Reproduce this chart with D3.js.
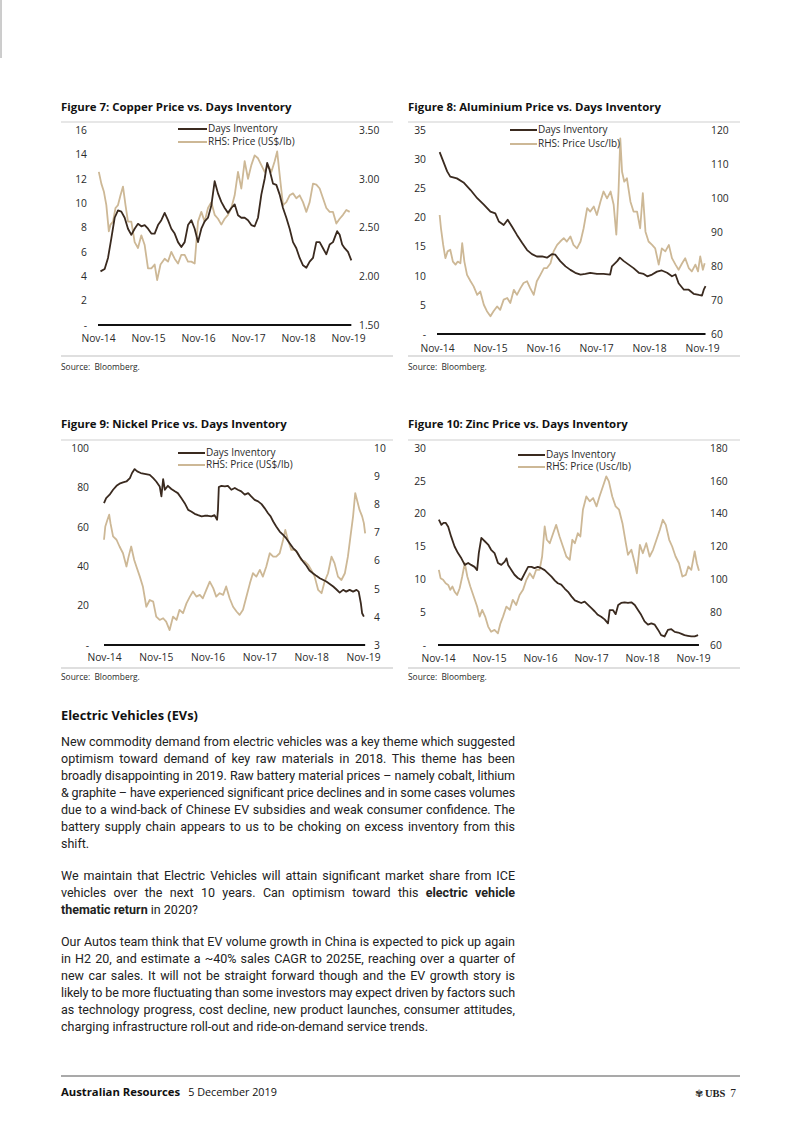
<!DOCTYPE html>
<html><head><meta charset="utf-8">
<script src="https://cdn.jsdelivr.net/npm/d3@7"></script>
<style>
body{margin:0;background:#fff;width:802px;height:1133px;overflow:hidden;position:relative;}
svg{position:absolute;left:0;top:0;}
.tl{position:absolute;left:61px;width:454px;height:17px;line-height:17px;white-space:nowrap;text-align:left;font-family:Roboto,"Open Sans",sans-serif;font-size:12.5px;color:#222;}
.tl.just{text-align:justify;text-align-last:justify;}
.hd{position:absolute;left:61px;font-family:"Open Sans",sans-serif;font-weight:700;font-size:12.8px;color:#111;line-height:17px;}
</style></head><body>
<svg id="page" width="802" height="1133"></svg>
<div id="txt"></div>
<script>
// ---------- DATA ----------
const tickMonths = [0, 12, 24, 36, 48, 60];              // months since Nov-14
const tickLabels = ["Nov-14", "Nov-15", "Nov-16", "Nov-17", "Nov-18", "Nov-19"];

const titles = [
  "Figure 7: Copper Price vs. Days Inventory",
  "Figure 8: Aluminium Price vs. Days Inventory",
  "Figure 9: Nickel Price vs. Days Inventory",
  "Figure 10: Zinc Price vs. Days Inventory"
];
const seriesNames = ["Days Inventory"];
const priceNames = ["RHS: Price (US$/lb)", "RHS: Price Usc/lb)", "RHS: Price (US$/lb)", "RHS: Price (Usc/lb)"];

// Copper: days inventory (LHS) and price US$/lb (RHS), [months since Nov-14, value]
const copperDays = [[0.6,4.4],[1.6,4.6],[2.4,5.5],[3.2,7.1],[4.0,8.8],[4.8,9.4],[5.6,9.3],[6.4,8.8],[7.2,7.9],[8.0,7.4],[8.8,7.9],[9.6,8.3],[10.4,8.1],[11.2,8.2],[12.0,7.9],[12.8,7.5],[13.6,7.5],[14.4,8.2],[15.2,8.6],[16.0,9.2],[16.8,8.6],[17.6,7.9],[18.4,7.5],[19.2,6.8],[20.0,6.4],[20.8,6.8],[21.6,8.2],[22.4,8.6],[23.2,7.9],[24.0,6.8],[24.8,7.9],[25.6,8.5],[26.4,8.8],[27.2,9.8],[28.0,11.8],[28.8,10.8],[29.6,10.1],[30.4,9.6],[31.2,9.2],[32.0,9.6],[32.8,9.9],[33.6,9.0],[34.4,8.8],[35.2,8.8],[36.0,8.6],[36.8,8.2],[37.6,8.1],[38.4,8.8],[39.2,10.7],[40.0,12.0],[40.6,13.3],[41.2,12.7],[42.0,11.6],[42.8,11.5],[43.6,10.7],[44.4,9.6],[45.2,8.8],[46.0,7.9],[46.8,6.8],[47.6,6.3],[48.4,5.5],[49.2,4.9],[50.0,4.7],[50.8,5.2],[51.6,5.5],[52.4,6.8],[53.2,6.8],[54.0,6.3],[54.8,5.8],[55.6,6.6],[56.4,6.8],[57.4,7.7],[58.0,7.4],[58.6,6.6],[59.2,6.3],[60.0,6.0],[60.8,5.3]];
const copperPrice = [[0.2,3.07],[0.8,2.95],[1.4,2.87],[2.0,2.73],[2.6,2.46],[3.0,2.53],[3.6,2.56],[4.2,2.70],[4.8,2.73],[5.4,2.83],[6.0,2.92],[6.6,2.73],[7.2,2.56],[8.0,2.56],[8.8,2.35],[9.6,2.29],[10.4,2.42],[11.2,2.32],[12.0,2.08],[12.8,2.08],[13.6,2.12],[14.2,1.96],[15.0,2.12],[16.0,2.18],[16.8,2.15],[17.6,2.25],[18.4,2.18],[19.2,2.13],[20.0,2.22],[20.8,2.22],[21.6,2.15],[22.4,2.15],[23.2,2.13],[24.0,2.56],[24.8,2.66],[25.6,2.56],[26.4,2.70],[27.2,2.76],[28.0,2.63],[28.8,2.59],[29.6,2.53],[30.4,2.59],[31.2,2.63],[32.0,2.70],[32.8,2.83],[33.6,3.07],[34.4,2.90],[35.2,3.18],[36.0,3.00],[36.8,3.14],[37.6,3.24],[38.4,3.21],[39.2,3.14],[40.0,3.07],[40.8,3.14],[41.6,3.07],[42.4,3.18],[43.0,3.28],[43.6,3.04],[44.4,2.73],[45.2,2.76],[46.0,2.83],[46.8,2.85],[47.6,2.80],[48.4,2.83],[49.2,2.76],[50.0,2.66],[50.8,2.76],[51.6,2.95],[52.4,2.94],[53.2,2.90],[54.0,2.80],[54.8,2.70],[55.6,2.66],[56.4,2.66],[57.2,2.54],[58.0,2.59],[58.8,2.63],[59.6,2.68],[60.4,2.66]];
const copperLeftTicks = [0, 2, 4, 6, 8, 10, 12, 14, 16];
const copperRightTicks = [1.5, 2.0, 2.5, 3.0, 3.5];

// Aluminium: days inventory and price Usc/lb
const aluDays = [[0.6,31.2],[2.3,27.9],[3.0,27.0],[4.5,26.7],[6.0,26.0],[7.6,24.7],[9.1,23.3],[10.6,22.2],[12.1,21.0],[13.2,20.7],[14.0,19.3],[15.1,18.7],[16.0,19.6],[17.0,18.4],[18.1,17.0],[19.3,15.6],[20.4,14.4],[21.5,13.7],[22.6,13.3],[23.8,13.3],[24.9,13.1],[26.0,13.7],[26.8,13.6],[27.9,12.5],[29.1,11.6],[30.2,11.0],[31.3,10.5],[32.5,10.2],[33.6,10.3],[34.7,10.5],[36.2,10.3],[37.7,10.3],[39.2,10.2],[39.6,11.6],[40.8,12.5],[41.4,13.1],[42.3,12.5],[43.4,11.9],[44.5,11.3],[45.7,10.5],[46.8,10.3],[47.6,9.9],[48.7,10.2],[49.8,10.7],[50.9,10.9],[52.1,10.5],[53.2,9.9],[54.0,10.2],[54.7,8.7],[55.9,7.6],[57.0,7.6],[58.1,6.9],[59.3,6.7],[60.0,6.6],[60.4,7.6],[60.8,8.2]];
const aluPrice = [[0.6,95.0],[0.9,91.1],[1.4,86.2],[1.9,82.3],[2.4,84.3],[3.0,84.8],[3.6,81.3],[4.2,80.4],[4.7,81.3],[5.3,80.8],[5.7,86.7],[6.2,81.3],[6.8,77.4],[7.6,75.5],[8.3,74.0],[9.1,71.5],[9.8,72.5],[10.6,68.6],[11.3,66.7],[12.1,65.2],[12.8,66.7],[13.6,68.1],[14.3,67.1],[15.1,70.1],[15.9,70.6],[16.6,69.1],[17.4,73.0],[18.1,71.5],[18.9,73.5],[19.6,75.0],[20.4,75.5],[21.1,73.5],[21.9,71.5],[22.6,75.5],[23.4,77.4],[24.2,79.4],[24.9,79.4],[25.7,80.8],[26.4,84.3],[27.2,86.2],[27.9,87.2],[28.7,88.2],[29.4,87.2],[30.2,88.7],[30.9,86.2],[31.7,85.2],[32.5,87.2],[33.2,91.1],[34.0,97.0],[34.7,96.0],[35.5,97.5],[36.2,95.0],[37.0,98.9],[37.7,101.9],[38.5,99.9],[39.3,101.9],[40.0,98.0],[40.6,89.2],[41.1,101.9],[41.5,117.5],[41.9,107.7],[42.4,104.8],[43.0,105.8],[43.8,98.9],[44.5,96.0],[45.3,96.0],[46.0,91.1],[46.6,101.4],[47.2,90.1],[47.9,87.2],[48.7,86.2],[49.4,85.2],[50.2,80.4],[50.9,85.2],[51.7,84.3],[52.5,86.2],[53.2,82.3],[54.0,80.4],[54.7,78.9],[55.5,80.8],[56.2,82.3],[57.0,79.4],[57.7,78.4],[58.5,80.4],[59.1,78.4],[59.6,82.8],[60.2,78.9],[60.6,80.8]];
const aluLeftTicks = [0, 5, 10, 15, 20, 25, 30, 35];
const aluRightTicks = [60, 70, 80, 90, 100, 110, 120];

// Nickel: days inventory and price US$/lb
const nickelDays = [[0.0,72],[0.5,74.6],[1.3,76.3],[2.1,78.8],[2.9,80.8],[3.6,81.9],[4.4,82.5],[5.2,83],[6.0,84.7],[6.5,87.3],[7.1,89.3],[7.7,88.1],[8.5,87.3],[9.4,86.9],[10.6,86.4],[11.4,84.7],[12.1,83],[12.9,80.5],[13.3,75.4],[13.7,84.2],[14.1,78.8],[14.8,80.8],[15.6,79.2],[16.4,78],[17.1,77.1],[17.9,74.6],[18.7,72],[19.5,68.6],[20.2,67.8],[21.0,66.6],[21.8,65.9],[22.6,65.3],[23.3,65.6],[24.1,65.6],[24.9,65.3],[25.6,65.9],[26.2,63.6],[26.4,68.6],[26.6,80.2],[27.2,80.8],[28.0,80.5],[28.7,80.8],[29.5,78.8],[30.3,79.7],[31.0,78.8],[31.8,78],[32.6,76.3],[33.4,77.1],[34.1,75.4],[34.9,73.7],[35.7,72.9],[36.5,71.5],[37.2,69.5],[38.0,66.9],[38.6,65.3],[39.2,62.7],[39.9,60.2],[40.7,57.6],[41.5,55.9],[42.2,54.2],[43.0,51.7],[43.8,49.2],[44.6,47.5],[45.3,44.9],[46.1,42.4],[46.9,40.2],[47.6,37.8],[48.4,36.4],[49.2,35.1],[50.0,33.9],[50.7,33.1],[51.5,32.2],[52.3,31],[53.1,29.7],[53.8,28.3],[54.6,26.6],[55.4,28],[56.1,27.1],[56.9,28],[57.7,27.1],[58.5,28],[59.0,27.1],[59.5,21.2],[59.8,16.1],[60.2,14.4]];
const nickelPrice = [[0.0,6.74],[0.3,7.21],[0.8,7.45],[1.2,7.63],[1.5,7.33],[2.1,6.86],[2.9,6.74],[3.6,6.50],[4.4,6.26],[5.2,5.79],[5.7,6.14],[6.3,6.50],[7.0,6.02],[7.5,5.79],[8.3,5.43],[9.0,5.08],[9.8,4.36],[10.6,4.60],[11.4,4.54],[12.1,4.01],[12.9,3.89],[13.7,3.95],[14.4,3.83],[15.2,3.53],[16.0,4.01],[16.8,3.89],[17.5,4.25],[18.3,4.13],[19.1,4.48],[19.9,4.72],[20.6,4.90],[21.4,4.72],[22.2,4.78],[22.9,4.66],[23.7,4.96],[24.5,5.25],[25.3,5.02],[26.0,4.72],[26.8,4.84],[27.6,4.78],[28.3,5.08],[29.1,4.66],[29.9,4.36],[30.7,4.19],[31.4,4.07],[32.2,4.25],[33.0,4.72],[33.8,5.19],[34.5,5.55],[35.3,5.43],[36.1,5.67],[36.8,5.43],[37.6,5.79],[38.4,6.26],[39.2,6.14],[39.9,6.14],[40.7,6.26],[41.5,6.74],[42.0,7.09],[42.6,6.74],[43.4,6.38],[44.2,6.38],[44.9,6.26],[45.7,6.02],[46.5,5.97],[47.3,5.85],[48.0,5.67],[48.8,5.43],[49.6,4.96],[50.4,4.84],[51.1,5.25],[51.9,5.55],[52.7,6.14],[53.4,5.91],[54.2,5.43],[55.0,5.31],[55.8,5.55],[56.5,6.14],[57.1,6.86],[57.7,7.57],[58.2,8.40],[58.7,8.10],[59.2,7.80],[59.8,7.57],[60.2,7.33],[60.5,6.97]];
const nickelLeftTicks = [0, 20, 40, 60, 80, 100];
const nickelRightTicks = [3, 4, 5, 6, 7, 8, 9, 10];

// Zinc: days inventory and price Usc/lb
const zincDays = [[0.2,19.1],[0.8,18.3],[1.3,18.6],[1.8,18.6],[2.4,18.0],[3.1,16.5],[3.9,15.0],[4.7,14.0],[5.5,13.2],[6.3,12.2],[7.1,12.5],[7.8,12.2],[8.6,11.9],[9.2,11.4],[9.6,14.0],[10.2,16.3],[11.0,15.8],[11.8,15.3],[12.5,14.5],[13.3,14.0],[14.1,12.5],[14.9,12.2],[15.7,12.7],[16.1,13.2],[16.5,12.2],[17.3,11.4],[18.0,10.7],[18.8,10.2],[19.6,9.9],[20.4,10.9],[21.2,11.9],[22.0,11.9],[22.7,11.7],[23.5,11.9],[24.3,11.7],[25.1,11.4],[25.9,10.9],[26.7,10.4],[27.5,9.8],[28.2,9.4],[29.0,9.2],[29.8,8.6],[30.6,8.1],[31.4,7.4],[32.2,6.8],[32.9,6.6],[33.7,6.4],[34.5,6.6],[35.3,6.1],[36.1,5.6],[36.9,5.1],[37.6,4.6],[38.4,4.3],[39.2,3.9],[40.0,3.3],[40.4,5.3],[41.2,5.3],[41.8,4.7],[42.4,6.1],[43.1,6.4],[43.9,6.5],[44.7,6.4],[45.5,6.5],[46.3,6.1],[47.1,5.3],[47.8,4.6],[48.6,3.6],[49.4,3.1],[50.2,3.3],[51.0,3.1],[51.8,2.3],[52.5,1.5],[53.3,1.3],[54.1,2.3],[54.9,2.4],[55.7,2.0],[56.5,1.9],[57.3,1.7],[58.0,1.5],[58.8,1.4],[59.6,1.3],[60.4,1.3],[61.2,1.5]];
const zincPrice = [[0.2,105.8],[0.6,100.7],[1.2,99.7],[1.8,97.6],[2.4,96.6],[2.9,93.6],[3.4,95.6],[3.9,92.5],[4.5,90.5],[5.1,94.6],[5.7,101.7],[6.3,109.8],[6.9,101.7],[7.6,95.6],[8.4,89.5],[9.2,83.4],[9.8,77.3],[10.4,81.4],[11.1,77.3],[11.8,71.2],[12.5,68.1],[13.3,69.2],[14.1,67.1],[14.7,73.2],[15.3,77.3],[16.1,83.4],[16.9,81.4],[17.6,87.5],[18.4,84.4],[19.2,90.5],[20.0,93.6],[20.8,99.7],[21.6,103.7],[22.4,100.7],[23.1,105.8],[23.9,105.8],[24.5,113.9],[25.1,132.2],[25.6,124.1],[26.3,122.0],[27.1,128.1],[27.8,133.2],[28.6,126.1],[29.4,120.0],[30.2,113.9],[31.0,111.9],[31.6,124.1],[32.2,122.0],[32.9,128.1],[33.5,126.1],[34.1,142.4],[34.9,150.5],[35.7,147.5],[36.5,149.5],[37.3,144.4],[38.0,150.5],[38.8,156.6],[39.6,162.7],[40.2,159.7],[41.0,150.5],[41.8,144.4],[42.6,142.4],[43.4,134.2],[44.2,122.0],[44.7,114.9],[45.5,118.0],[46.3,109.8],[46.8,103.7],[47.5,121.0],[48.2,115.9],[49.0,122.0],[49.8,113.9],[50.6,118.0],[51.4,124.1],[52.2,130.2],[52.9,136.3],[53.6,133.2],[54.4,124.1],[55.1,120.0],[55.9,113.9],[56.7,109.8],[57.5,101.7],[58.3,102.7],[58.9,107.8],[59.6,105.8],[60.4,117.0],[60.9,109.8],[61.4,105.3]];
const zincLeftTicks = [0, 5, 10, 15, 20, 25, 30];
const zincRightTicks = [60, 80, 100, 120, 140, 160, 180];

const sourceText = "Source:  Bloomberg.";

// ---------- LAYOUT ----------
const DARK = "#3a2a1f", TAN = "#cdb896", TXT = "#2a2a2a";
const charts = [
  {title: titles[0], days: copperDays, price: copperPrice, lt: copperLeftTicks, rt: copperRightTicks, rfmt: d3.format(".2f"), pname: priceNames[0],
   panel:[61,393], titleY:107, ruleY:122, px:[98,348], py:[325,130], leftX:87, rightX:359, xLabY:338, leg:[178,207,129,142], srcRuleY:356, srcY:367},
  {title: titles[1], days: aluDays, price: aluPrice, lt: aluLeftTicks, rt: aluRightTicks, rfmt: d3.format("d"), pname: priceNames[1],
   panel:[408,740], titleY:107, ruleY:122, px:[437,702], py:[334,130], leftX:426, rightX:711, xLabY:348, leg:[510,537,130,144], srcRuleY:356, srcY:367},
  {title: titles[2], days: nickelDays, price: nickelPrice, lt: nickelLeftTicks, rt: nickelRightTicks, rfmt: d3.format("d"), pname: priceNames[2],
   panel:[61,393], titleY:424, ruleY:440, px:[104,363], py:[645,448], leftX:89, rightX:374, xLabY:657, leg:[178,205,453,465], srcRuleY:668, srcY:677},
  {title: titles[3], days: zincDays, price: zincPrice, lt: zincLeftTicks, rt: zincRightTicks, rfmt: d3.format("d"), pname: priceNames[3],
   panel:[408,740], titleY:424, ruleY:440, px:[438,693], py:[645,448], leftX:426, rightX:710, xLabY:658, leg:[518,545,455,467], srcRuleY:668, srcY:677}
];

const svg = d3.select("#page");
const FONT = "'Open Sans', sans-serif";

// page decoration
svg.append("line").attr("x1",1).attr("x2",1).attr("y1",0).attr("y2",58).attr("stroke","#9a9a9a").attr("stroke-width",1);

charts.forEach(c => {
  const g = svg.append("g");
  g.append("text").attr("x", c.panel[0]).attr("y", c.titleY).attr("dy","0.35em")
    .attr("font-family", FONT).attr("font-weight", 700).attr("font-size", 11.4).attr("fill", "#111").text(c.title);
  g.append("line").attr("x1", c.panel[0]).attr("x2", c.panel[1]).attr("y1", c.ruleY).attr("y2", c.ruleY).attr("stroke", "#cfcfcf");
  g.append("line").attr("x1", c.panel[0]).attr("x2", c.panel[1]).attr("y1", c.srcRuleY).attr("y2", c.srcRuleY).attr("stroke", "#d5d5d5").attr("stroke-width", 1.5);
  g.append("text").attr("x", c.panel[0]).attr("y", c.srcY).attr("dy","0.35em").style("white-space","pre")
    .attr("font-family", FONT).attr("font-size", 8.4).attr("fill", TXT).text(sourceText);

  const lt = c.lt, rt = c.rt;
  const x = d3.scaleLinear().domain([0, 60]).range(c.px);
  const yL = d3.scaleLinear().domain([lt[0], lt[lt.length-1]]).range(c.py);
  const yR = d3.scaleLinear().domain([rt[0], rt[rt.length-1]]).range(c.py);

  const axL = g.append("g").attr("transform", `translate(${c.leftX},0)`)
    .call(d3.axisLeft(yL).tickValues(lt).tickSize(0).tickPadding(0).tickFormat(d => d === 0 ? "-" : d3.format("d")(d)));
  const axR = g.append("g").attr("transform", `translate(${c.rightX},0)`)
    .call(d3.axisRight(yR).tickValues(rt).tickSize(0).tickPadding(0).tickFormat(c.rfmt));
  const axB = g.append("g").attr("transform", `translate(0,${c.xLabY})`)
    .call(d3.axisBottom(x).tickValues(tickMonths).tickSize(0).tickPadding(0).tickFormat((d,i) => tickLabels[i]));
  [axL, axR, axB].forEach(a => {
    a.select(".domain").remove();
    a.selectAll("text").attr("font-family", FONT).attr("font-size", 10.3).attr("fill", TXT);
  });
  axB.selectAll("text").attr("dy", "0.35em").attr("y", 0);

  const tMax = d3.max(c.days.concat(c.price), d => d[0]);
  g.append("line").attr("x1", x(0)).attr("x2", x(tMax)).attr("y1", yL(0)).attr("y2", yL(0))
    .attr("stroke", "#111").attr("stroke-width", 2);

  g.append("path").datum(c.price).attr("fill","none").attr("stroke", TAN).attr("stroke-width", 1.8).attr("stroke-linejoin","round")
    .attr("d", d3.line().x(d => x(d[0])).y(d => yR(d[1])));
  g.append("path").datum(c.days).attr("fill","none").attr("stroke", DARK).attr("stroke-width", 1.8).attr("stroke-linejoin","round")
    .attr("d", d3.line().x(d => x(d[0])).y(d => yL(d[1])));

  const [lx0, lx1, ly0, ly1] = c.leg;
  g.append("line").attr("x1", lx0).attr("x2", lx1).attr("y1", ly0).attr("y2", ly0).attr("stroke", DARK).attr("stroke-width", 2);
  g.append("line").attr("x1", lx0).attr("x2", lx1).attr("y1", ly1).attr("y2", ly1).attr("stroke", TAN).attr("stroke-width", 2);
  g.append("text").attr("x", lx1 + 1).attr("y", ly0).attr("dy","0.33em").attr("font-family", FONT).attr("font-size", 10).attr("fill", TXT).text(seriesNames[0]);
  g.append("text").attr("x", lx1 + 1).attr("y", ly1).attr("dy","0.33em").attr("font-family", FONT).attr("font-size", 10).attr("fill", TXT).text(c.pname);
});

// ---------- TEXT SECTION ----------
const heading = "Electric Vehicles (EVs)";
const paragraphs = [
  {y0: 741, lines: [
    "New commodity demand from electric vehicles was a key theme which suggested",
    "optimism toward demand of key raw materials in 2018. This theme has been",
    "broadly disappointing in 2019. Raw battery material prices – namely cobalt, lithium",
    "&amp; graphite – have experienced significant price declines and in some cases volumes",
    "due to a wind-back of Chinese EV subsidies and weak consumer confidence. The",
    "battery supply chain appears to us to be choking on excess inventory from this",
    "shift."]},
  {y0: 875, lines: [
    "We maintain that Electric Vehicles will attain significant market share from ICE",
    "vehicles over the next 10 years. Can optimism toward this <b>electric vehicle</b>",
    "<b>thematic return</b> in 2020?"]},
  {y0: 941, lines: [
    "Our Autos team think that EV volume growth in China is expected to pick up again",
    "in H2 20, and estimate a ~40% sales CAGR to 2025E, reaching over a quarter of",
    "new car sales. It will not be straight forward though and the EV growth story is",
    "likely to be more fluctuating than some investors may expect driven by factors such",
    "as technology progress, cost decline, new product launches, consumer attitudes,",
    "charging infrastructure roll-out and ride-on-demand service trends."]}
];
const BOX = 454;
const txt = d3.select("#txt");
txt.append("div").attr("class","hd").style("top", (715 - 8.5) + "px").text(heading);
paragraphs.forEach(p => {
  p.lines.forEach((l, i) => {
    const last = i === p.lines.length - 1;
    const div = txt.append("div").attr("class", "tl")
      .style("top", (p.y0 + i * 17.1 - 8.5) + "px").html("<span>" + l + "</span>");
    const span = div.select("span").node();
    const w = span.getBoundingClientRect().width;
    if (w > BOX - 1) {
      const n = span.textContent.length;
      div.style("letter-spacing", ((BOX - 1 - w) / n) + "px");
    }
    if (!last) div.classed("just", true);
  });
});

// ---------- FOOTER ----------
svg.append("line").attr("x1", 61).attr("x2", 740).attr("y1", 1076).attr("y2", 1076).attr("stroke", "#555").attr("stroke-width", 1.2);
const ft = svg.append("text").attr("x", 61).attr("y", 1092).attr("dy","0.35em").attr("font-family", FONT).attr("font-size", 11.3).attr("fill", "#111");
ft.append("tspan").attr("font-weight", 700).text("Australian Resources");
ft.append("tspan").attr("dx", 8).attr("font-size", 10.8).text("5 December 2019");
svg.append("text").attr("x", 695).attr("y", 1093).attr("dy","0.35em").attr("font-family","DejaVu Sans").attr("font-size", 10).attr("fill","#333").text("✾");
svg.append("text").attr("x", 705).attr("y", 1093).attr("dy","0.35em").attr("font-family","'Liberation Serif', serif").attr("font-weight",700).attr("font-size", 10.5).attr("fill","#222").text("UBS");
svg.append("text").attr("x", 736).attr("y", 1093).attr("dy","0.35em").attr("text-anchor","end").attr("font-family","'Liberation Serif', serif").attr("font-size", 11.5).attr("fill","#222").text("7");
</script>
</body></html>
